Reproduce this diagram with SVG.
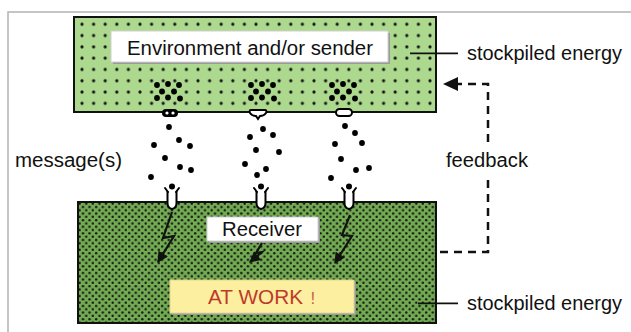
<svg xmlns="http://www.w3.org/2000/svg" width="631" height="332" viewBox="0 0 631 332">
<style>
  .t { font-family: "Liberation Sans", Arial, sans-serif; font-size: 19.5px; fill: #111; }
  .box { stroke: #111; stroke-width: 2; }
  .lbl { fill: #fff; stroke: #d0d0d0; stroke-width: 1; }
  .shadow { fill: #9a9a9a; }
  .big { fill: #000; }
  .lead { stroke: #111; stroke-width: 1.8; fill: none; }
  .dash { stroke: #111; stroke-width: 2.5; fill: none; stroke-dasharray: 8 6; }
  .bolt { stroke: #111; stroke-width: 2.2; fill: none; stroke-linejoin: miter; marker-end: url(#ah); }
  .rbody { fill: #fff; stroke: #000; stroke-width: 2; }
  .rarm { stroke: #000; stroke-width: 2; fill: none; stroke-linecap: round; }
</style>
<defs>
  <pattern id="dotsLight" patternUnits="userSpaceOnUse" x="76.2" y="18.6" width="11.6" height="11.3">
    <circle cx="5.8" cy="5.7" r="1.6" fill="#111"/>
  </pattern>
  <pattern id="dotsDark" patternUnits="userSpaceOnUse" x="78" y="202" width="6.6" height="6.6">
    <circle cx="1.65" cy="1.65" r="1.2" fill="#111"/>
    <circle cx="4.95" cy="4.95" r="1.2" fill="#111"/>
  </pattern>
  <marker id="ah" viewBox="0 0 10 10" refX="9" refY="5" markerWidth="5.5" markerHeight="5" orient="auto" markerUnits="strokeWidth">
    <path d="M0 0 L10 5 L0 10 Z" fill="#111"/>
  </marker>
</defs>

<!-- frame -->
<g id="frame" stroke="#b3b3b3" stroke-width="1.5" fill="none">
  <path d="M8 332 V12 H631"/>
</g>

<!-- sender -->
<g id="node-sender">
  <rect x="74" y="17" width="362" height="95" fill="#acd98e"/>
  <rect x="74" y="17" width="362" height="95" fill="url(#dotsLight)"/>
  <rect x="74" y="17" width="362" height="95" fill="none" class="box"/>
  <rect x="113" y="33" width="277" height="31" class="shadow"/>
  <rect x="111" y="31" width="277" height="31" class="lbl"/>
  <text class="t" x="127" y="55" textLength="246" lengthAdjust="spacingAndGlyphs">Environment and/or sender</text>
  <!-- emitting clusters -->
  <g class="big">
    <circle cx="157" cy="85" r="2.9"/><circle cx="168" cy="84" r="2.9"/><circle cx="179" cy="85" r="2.9"/>
    <circle cx="162" cy="91.5" r="2.9"/><circle cx="174" cy="91.5" r="2.9"/>
    <circle cx="157" cy="98" r="2.9"/><circle cx="168" cy="97.5" r="2.9"/><circle cx="180" cy="98.5" r="2.9"/>

    <circle cx="251" cy="85" r="2.9"/><circle cx="262" cy="84" r="2.9"/><circle cx="273" cy="85" r="2.9"/>
    <circle cx="256" cy="91.5" r="2.9"/><circle cx="268" cy="91.5" r="2.9"/>
    <circle cx="251" cy="98" r="2.9"/><circle cx="262" cy="97.5" r="2.9"/><circle cx="274" cy="98.5" r="2.9"/>

    <circle cx="332" cy="85" r="2.9"/><circle cx="343" cy="84" r="2.9"/><circle cx="354" cy="85" r="2.9"/>
    <circle cx="337" cy="91.5" r="2.9"/><circle cx="349" cy="91.5" r="2.9"/>
    <circle cx="332" cy="98" r="2.9"/><circle cx="343" cy="97.5" r="2.9"/><circle cx="355" cy="98.5" r="2.9"/>
  </g>
  <!-- emitters -->
  <rect x="162" y="109" width="16" height="8" rx="4" fill="#000"/>
  <circle cx="167" cy="113" r="1.6" fill="#fff"/><circle cx="173" cy="113" r="1.6" fill="#fff"/>
  <path d="M251 110 H265 Q267 110 266 113 Q264 116 260 116 L258 119 L256 116 Q252 116 250 113 Q249 110 251 110 Z" fill="#fff" stroke="#000" stroke-width="2"/>
  <rect x="336" y="109" width="16" height="7" rx="3.5" fill="#fff" stroke="#000" stroke-width="2"/>
</g>

<!-- message particles -->
<g id="messages" fill="#000">
  <circle cx="169" cy="127" r="2.9"/><circle cx="154" cy="145" r="2.9"/><circle cx="179" cy="140" r="2.9"/><circle cx="190" cy="146" r="2.9"/>
  <circle cx="165" cy="158" r="2.9"/><circle cx="180" cy="167" r="2.9"/><circle cx="191" cy="170" r="2.9"/><circle cx="151" cy="177" r="2.9"/>
  <circle cx="263" cy="129" r="2.9"/><circle cx="250" cy="137" r="2.9"/><circle cx="273" cy="135" r="2.9"/><circle cx="256" cy="150" r="2.9"/>
  <circle cx="279" cy="152" r="2.9"/><circle cx="245" cy="164" r="2.9"/><circle cx="266" cy="169" r="2.9"/><circle cx="257" cy="175" r="2.9"/>
  <circle cx="345" cy="126" r="2.9"/><circle cx="355" cy="133" r="2.9"/><circle cx="362" cy="143" r="2.9"/><circle cx="335" cy="144" r="2.9"/>
  <circle cx="341" cy="159" r="2.9"/><circle cx="356" cy="170" r="2.9"/><circle cx="369" cy="168" r="2.9"/><circle cx="331" cy="178" r="2.9"/>
</g>

<!-- receiver -->
<g id="node-receiver">
  <rect x="78" y="202" width="358" height="121" fill="#72ab52"/>
  <rect x="78" y="202" width="358" height="121" fill="url(#dotsDark)"/>
  <rect x="78" y="202" width="358" height="121" fill="none" class="box"/>
  <!-- receptors -->
  <g>
    <path class="rbody" d="M167.5 191 V203 Q167.5 208 172 209 Q176.5 208 176.5 203 V191"/>
    <path class="rarm" d="M165 188 L168 192 M179 188 L176 192"/>
    <circle cx="172" cy="186.5" r="3" fill="#000"/>
    <path class="rbody" d="M256.5 191 V203 Q256.5 208 261 209 Q265.5 208 265.5 203 V191"/>
    <path class="rarm" d="M254 188 L257 192 M268 188 L265 192"/>
    <circle cx="261" cy="186.5" r="3" fill="#000"/>
    <path class="rbody" d="M344.5 191 V203 Q344.5 208 349 209 Q353.5 208 353.5 203 V191"/>
    <path class="rarm" d="M342 188 L345 192 M356 188 L353 192"/>
    <circle cx="349" cy="186.5" r="3" fill="#000"/>
  </g>
  <rect x="209" y="219" width="111" height="24" class="shadow"/>
  <rect x="207" y="217" width="111" height="24" class="lbl"/>
  <text class="t" x="222" y="236" textLength="80" lengthAdjust="spacingAndGlyphs">Receiver</text>
  <rect x="172" y="282" width="184" height="33" class="shadow"/>
  <rect x="170" y="280" width="184" height="33" fill="#fcf0a0" stroke="#e0d890" stroke-width="1"/>
  <text class="t" x="208" y="304" textLength="95" lengthAdjust="spacingAndGlyphs" style="fill:#c0392b">AT WORK</text>
  <text class="t" x="310.5" y="304" style="fill:#c86050;font-size:17px">!</text>
</g>

<!-- connectors -->
<g id="connectors">
  <path class="bolt" d="M172 212 L163 238 L174 236 L158 262"/>
  <path class="bolt" d="M262 243 L256 253 L262 252 L250 262"/>
  <path class="bolt" d="M350 215 L342 235 L352 236 L335 263"/>
  <path class="dash" d="M440 252 H488 V180"/>
  <path class="dash" d="M488 142 V84 H456"/>
  <path d="M443 84 L458 77 L458 91 Z" fill="#111"/>
  <path class="lead" d="M410 53.3 H458"/>
  <path class="lead" d="M418 303.3 H458"/>
</g>

<!-- free labels -->
<g id="labels">
  <text class="t" x="467" y="60" textLength="155" lengthAdjust="spacingAndGlyphs">stockpiled energy</text>
  <text class="t" x="467" y="310" textLength="155" lengthAdjust="spacingAndGlyphs">stockpiled energy</text>
  <text class="t" x="446" y="167" textLength="82" lengthAdjust="spacingAndGlyphs">feedback</text>
  <text class="t" x="15" y="167" textLength="107" lengthAdjust="spacingAndGlyphs">message(s)</text>
</g>
</svg>
